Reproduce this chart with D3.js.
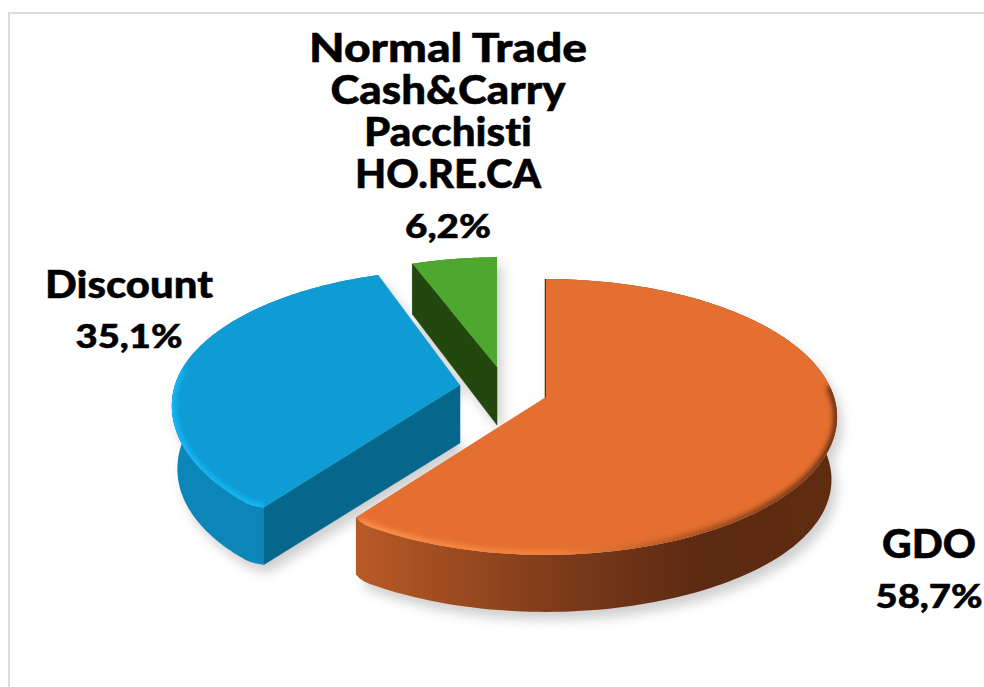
<!DOCTYPE html>
<html><head><meta charset="utf-8">
<script src="https://cdnjs.cloudflare.com/ajax/libs/d3/7.8.5/d3.min.js"></script>
<style>html,body{margin:0;padding:0;background:#fff;overflow:hidden}svg{display:block}
text{font-family:Lato,"Open Sans",sans-serif;font-weight:900;fill:#000;stroke:#000;stroke-width:.5;text-anchor:middle;font-variant-ligatures:none}</style>
</head><body><svg id="c" width="984" height="687"></svg>
<script>
// ---- data ----
const categories = ["GDO", "Discount", "Normal Trade\nCash&Carry\nPacchisti\nHO.RE.CA"];
const shares = [58.7, 35.1, 6.2];
const shareLabels = ["58,7%", "35,1%", "6,2%"];
// ---- style / layout ----
const topColors = ["#e46f30", "#0f9cd4", "#4ea72e"];
const cutColors = ["#5a2a12", "#07668c", "#22470f"];
const bevelColors = [["#ff8f48", "#f2813d", "#a5501f", "#6a3012"], ["#14b6f6", "#14b6f6", "#14b6f6", "#14b6f6"], ["#4ea72e", "#4ea72e", "#4ea72e", "#4ea72e"]];
const wallStops = [["#b85a26", "#7c3b19", "#5c2a12", "#602c11"], ["#0c86b8", "#0c86b8", "#0c86b8", "#0c86b8"], ["#2d5f15", "#2d5f15", "#2d5f15", "#2d5f15"]];
const apexes = [[546, 397], [460, 385], [497, 367]];
const radiiX = [1, 0.99, 0.93];
const radiiY = [1, 0.98, 0.93];
const frontY = [1, 1.07, 1];
const bevelFrom = [85, 218.5, 0];   // screen angle where the front bevel begins (back rim has none)
const bevelTo = [216.5, 278, 0];
const labelLayout = [
  {x: 929, nameY: [558], nameSize: 39, nameW: [94], valY: 608, valSize: 33, valW: 107},
  {x: 129, nameY: [298], nameSize: 38, nameW: [168], valY: 348, valSize: 32, valW: 107},
  {x: 448, nameY: [62, 104, 146, 188], nameSize: 40, nameW: [278, 235, 168, 186], valY: 238, valSize: 32, valW: 86}
];

const svg = d3.select("#c");
const defs = svg.append("defs");
const deg = Math.PI / 180;
const pie = d3.pie().sort(null).value(d => d).startAngle(0).endAngle(2 * Math.PI);
const arcs = pie(shares);

// view warp of pie angle to on-screen rim angle (3D camera), per slice
const warps = [
  d3.scaleLinear().domain([0, 211.3]).range([0, 216.5]),
  d3.scaleLinear().domain([211.3, 337.7]).range([218.5, 341]),
  d3.scaleLinear().domain([337.7, 360]).range([339, 360])
];
const corner = [216.5, 218.5, -99];   // the front corner of the slice is softly rounded
const K = 0.145, RX = 288, RY = 135;
const depth = d3.scaleLinear().domain([-1, 0, 1]).range([50, 58, 57]);

function proj(i, angleRad) {
  const sd = warps[i](angleRad / deg), t = sd * deg;
  const c = Math.max(0, 1 - Math.abs(sd - corner[i]) / 4);
  const soft = 1 - 0.018 * c * c;
  const u = Math.sin(t) * soft, v = -Math.cos(t) * soft, w = 1 - K * v;
  return {dx: radiiX[i] * RX * u / w, dy: radiiY[i] * (v > 0 ? frontY[i] : 1) * RY * v / w, v};
}
const topPt = (i, a) => { const p = proj(i, a); return [apexes[i][0] + p.dx, apexes[i][1] + p.dy]; };
const botPt = (i, a) => {
  const p = proj(i, a), xs = 1 - 0.025 * Math.max(0, 1 - Math.abs(p.v) / 0.7);
  return [apexes[i][0] + xs * p.dx, apexes[i][1] + p.dy + depth(p.v)];
};
const samples = (a0, a1) => d3.range(0, 161).map(k => a0 + (a1 - a0) * k / 160);
const line = d3.line();

const f = (id, s) => defs.append("filter").attr("id", id).attr("x", "-20%").attr("y", "-20%").attr("width", "140%").attr("height", "140%")
  .append("feGaussianBlur").attr("stdDeviation", s);
f("sh", 6); f("bv", 2.6);

arcs.forEach((d, i) => {
  const xs = [358, 560, 700, 837];
  const mk = (id, cols) => {
    const g = defs.append("linearGradient").attr("id", id).attr("gradientUnits", "userSpaceOnUse")
      .attr("x1", i === 0 ? 358 : 170).attr("x2", i === 0 ? 837 : 500).attr("y1", 0).attr("y2", 0);
    cols.forEach((c, k) => g.append("stop").attr("offset", i === 0 ? (xs[k] - 358) / 479 : k / 3).attr("stop-color", c));
  };
  mk("wall" + i, wallStops[i]);
  mk("bev" + i, bevelColors[i]);
  const tp = [apexes[i]].concat(samples(d.startAngle, d.endAngle).map(a => topPt(i, a)));
  defs.append("clipPath").attr("id", "clip" + i).append("path").attr("d", line(tp) + "Z");
});

// soft shadows
const shadow = svg.append("g").attr("filter", "url(#sh)").attr("fill", "#cfcfcf");
arcs.forEach((d, i) => {
  const pts = samples(d.startAngle, d.endAngle).map(a => botPt(i, a));
  const tpts = samples(d.startAngle, d.endAngle).map(a => topPt(i, a));
  shadow.append("path").attr("transform", "translate(5,8)")
    .attr("d", line([apexes[i]].concat(tpts)) + "Z" + line(pts.concat([[apexes[i][0], apexes[i][1] + 58]])) + "Z");
});

// draw order: Discount, small slice, GDO in front
[1, 2, 0].forEach(i => {
  const d = arcs[i];
  const g = svg.append("g");
  const as = samples(d.startAngle, d.endAngle);
  g.append("path").attr("fill", `url(#wall${i})`)
    .attr("d", line(as.map(a => topPt(i, a)).concat(as.slice().reverse().map(a => botPt(i, a)))) + "Z");
  const ap = apexes[i];
  g.append("path").attr("fill", cutColors[i]).attr("stroke", cutColors[i]).attr("stroke-width", i === 0 ? 2.5 : 0.5)
    .attr("d", line([ap, topPt(i, d.startAngle), botPt(i, d.startAngle), [ap[0], ap[1] + 58]]) + "Z");
  g.append("path").attr("fill", topColors[i])
    .attr("d", line([ap].concat(as.map(a => topPt(i, a)))) + "Z");
  // bevel along the front rim only
  const vis = as.filter(a => { const s = warps[i](a / deg); return s >= bevelFrom[i] && s <= bevelTo[i]; });
  if (vis.length) {
    g.append("g").attr("clip-path", `url(#clip${i})`).append("path")
      .attr("fill", "none").attr("stroke", `url(#bev${i})`).attr("stroke-width", 8).attr("filter", "url(#bv)")
      .attr("d", line(vis.map(a => topPt(i, a))));
  }
});

// labels
arcs.forEach((d, i) => {
  const L = labelLayout[i];
  const t = svg.append("text").attr("font-size", L.nameSize);
  categories[i].split("\n").forEach((s, k) => {
    t.append("tspan").attr("x", L.x).attr("y", L.nameY[k])
      .attr("textLength", L.nameW[k]).attr("lengthAdjust", "spacingAndGlyphs").text(s);
  });
  svg.append("text").attr("x", L.x).attr("y", L.valY).attr("font-size", L.valSize)
    .attr("textLength", L.valW).attr("lengthAdjust", "spacingAndGlyphs").text(shareLabels[i]);
});

// frame
svg.append("path").attr("fill", "none").attr("stroke", "#dcdcdc").attr("stroke-width", 2)
  .attr("d", line([[9, 690], [9, 13], [990, 13]]));
</script></body></html>
